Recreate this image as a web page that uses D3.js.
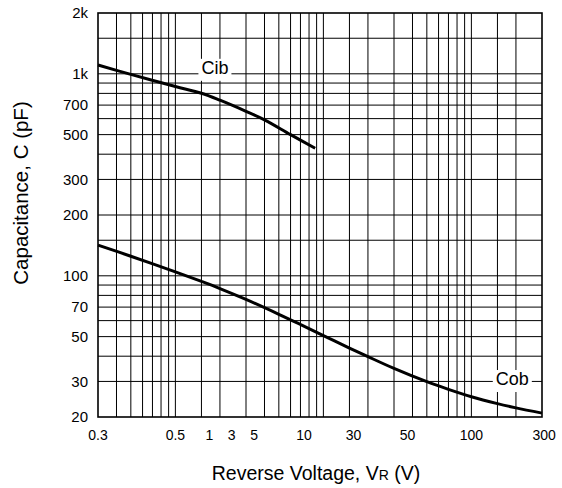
<!DOCTYPE html>
<html>
<head>
<meta charset="utf-8">
<script src="https://cdn.jsdelivr.net/npm/d3@7"></script>
<style>
  html, body { margin: 0; padding: 0; background: #fff; }
  svg { display: block; font-family: "Liberation Sans", Arial, Helvetica, sans-serif; }
</style>
</head>
<body>
<svg id="chart" width="562" height="488"></svg>
<script>
// Capacitance vs. reverse voltage (log-log)
const cibVoltage = [0.3, 0.5, 1, 1.5, 2, 3, 4, 6, 8.8];
const cibCap     = [1106, 993, 865, 801, 740, 652, 592, 500, 428];

const cobVoltage = [0.3, 0.5, 1, 1.5, 2, 3, 5, 7, 10, 15, 20, 30, 50, 70, 100, 150, 200, 300];
const cobCap     = [142, 125, 104.6, 93.8, 86.5, 76.4, 64.5, 57.4, 50.6, 43.9, 39.8, 34.8,
                    29.9, 27.4, 25.2, 23.3, 22.2, 20.9];

const xGridValues = [0.4, 0.5, 0.6, 0.7, 0.8, 0.9, 1, 1.5, 2, 3, 4, 5, 6, 7, 8, 9,
                     10, 15, 20, 30, 40, 50, 60, 70, 80, 90, 100, 150, 200];
const yGridValues = [30, 40, 50, 60, 70, 80, 90, 100, 150, 200, 300, 400, 500,
                     600, 700, 800, 900, 1000, 1500];

const xTickLabels = ["0.3", "0.5", "1", "3", "5", "10", "30", "50", "100", "300"];
const xTickAt     = [0.3, 1, 1.7, 2.4, 3.4, 7.4, 16, 37, 100, 310];

const yTickValues = [20, 30, 50, 70, 100, 200, 300, 500, 700, 1000, 2000];
const yTickLabels = ["20", "30", "50", "70", "100", "200", "300", "500", "700", "1k", "2k"];

const seriesNames = ["Cib", "Cob"];
const seriesLabelAt = [[1.85, 1000], [189, 28.8]];

const svg = d3.select("#chart");
const m = { left: 98, right: 542, top: 13, bottom: 417 };

const x = d3.scaleLog().domain([0.3, 300]).range([m.left, m.right]);
const y = d3.scaleLog().domain([20, 2000]).range([m.bottom, m.top]);

// grid
const grid = svg.append("g").attr("stroke", "#000").attr("stroke-width", 1);
grid.selectAll("line.v").data(xGridValues).join("line")
  .attr("class", "v")
  .attr("x1", d => x(d)).attr("x2", d => x(d))
  .attr("y1", m.top).attr("y2", m.bottom);
grid.selectAll("line.h").data(yGridValues).join("line")
  .attr("class", "h")
  .attr("x1", m.left).attr("x2", m.right)
  .attr("y1", d => y(d)).attr("y2", d => y(d));

// frame
svg.append("rect")
  .attr("x", m.left).attr("y", m.top)
  .attr("width", m.right - m.left).attr("height", m.bottom - m.top)
  .attr("fill", "none").attr("stroke", "#000").attr("stroke-width", 1.6);

// curves
const line = d3.line()
  .x(d => x(d[0])).y(d => y(d[1]))
  .curve(d3.curveCatmullRom.alpha(0.5));
const curves = [d3.zip(cibVoltage, cibCap), d3.zip(cobVoltage, cobCap)];
svg.append("g").selectAll("path").data(curves).join("path")
  .attr("d", line)
  .attr("fill", "none").attr("stroke", "#000")
  .attr("stroke-width", 3).attr("stroke-linejoin", "round");

// series labels on a white patch
seriesNames.forEach((name, i) => {
  const g = svg.append("g");
  const t = g.append("text")
    .attr("x", x(seriesLabelAt[i][0])).attr("y", y(seriesLabelAt[i][1]))
    .attr("text-anchor", "middle")
    .attr("font-size", 18).attr("fill", "#000")
    .text(name);
  const b = t.node().getBBox();
  g.insert("rect", "text")
    .attr("x", b.x - 3).attr("y", b.y + 1)
    .attr("width", b.width + 6).attr("height", b.height + 2)
    .attr("fill", "#fff");
});

// y tick labels
svg.append("g").selectAll("text").data(yTickValues).join("text")
  .attr("x", 88).attr("y", d => y(d))
  .attr("dy", "0.35em")
  .attr("text-anchor", "end")
  .attr("font-size", 15)
  .text((d, i) => yTickLabels[i]);

// x tick labels
svg.append("g").selectAll("text").data(xTickAt).join("text")
  .attr("x", d => x(d)).attr("y", 440)
  .attr("text-anchor", "middle")
  .attr("font-size", 14)
  .text((d, i) => xTickLabels[i]);

// axis titles
const xt = svg.append("text")
  .attr("x", 316).attr("y", 480)
  .attr("text-anchor", "middle")
  .attr("font-size", 19.5);
xt.append("tspan").text("Reverse Voltage, V");
xt.append("tspan").attr("font-size", 14).text("R");
xt.append("tspan").text(" (V)");

svg.append("text")
  .attr("transform", "translate(28,193) rotate(-90)")
  .attr("text-anchor", "middle")
  .attr("font-size", 20.5)
  .text("Capacitance, C (pF)");
</script>
</body>
</html>
